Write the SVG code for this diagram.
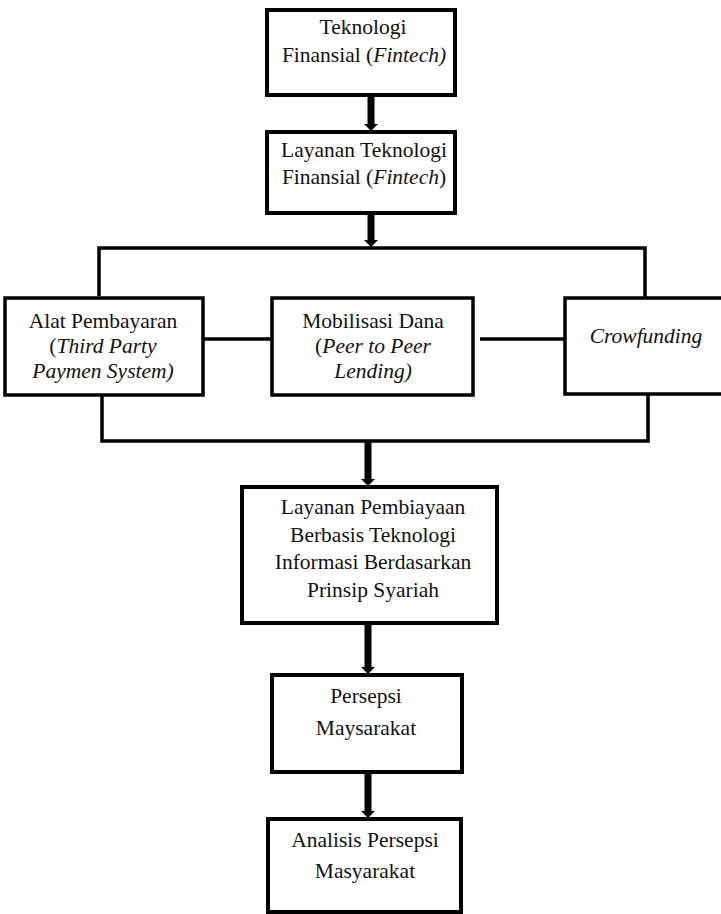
<svg xmlns="http://www.w3.org/2000/svg" width="721" height="914" viewBox="0 0 721 914">
<defs>
<style>
.box{fill:#fff;stroke:#000;stroke-width:4}
.mid{fill:#fff;stroke:#000;stroke-width:3.5}
.t{font-family:'Liberation Serif','Times New Roman',serif;font-size:21.5px;fill:#111;text-anchor:middle}
.i{font-style:italic}
.thin{fill:none;stroke:#000;stroke-width:3.5}
.thick{fill:none;stroke:#000;stroke-width:7}
</style>
</defs>
<rect width="721" height="914" fill="#fff"/>
<g id="connectors">
<line class="thick" x1="371" y1="95" x2="371" y2="126"/>
<path d="M364,124 L378,124 L371,131 Z" fill="#000"/>
<line class="thick" x1="371" y1="213" x2="371" y2="242"/>
<path d="M364,240 L378,240 L371,247 Z" fill="#000"/>
<path class="thin" d="M99,296 V248 H645 V297"/>
<line class="thin" x1="203" y1="339" x2="272" y2="339"/>
<line class="thin" x1="480" y1="339" x2="565" y2="339"/>
<path class="thin" d="M102,395 V441 H648 V395"/>
<line class="thick" x1="368" y1="441" x2="368" y2="481"/>
<path d="M361,479 L375,479 L368,486 Z" fill="#000"/>
<line class="thick" x1="368" y1="623" x2="368" y2="669"/>
<path d="M361,667 L375,667 L368,674 Z" fill="#000"/>
<line class="thick" x1="368" y1="772" x2="368" y2="813"/>
<path d="M361,811 L375,811 L368,818 Z" fill="#000"/>
</g>
<g id="n1">
<rect class="box" x="267" y="10" width="188" height="85"/>
<text class="t" x="363" y="34">Teknologi</text>
<text class="t" x="364" y="62">Finansial (<tspan class="i">Fintech)</tspan></text>
</g>
<g id="n2">
<rect class="box" x="267" y="132" width="188" height="81"/>
<text class="t" x="364" y="157">Layanan Teknologi</text>
<text class="t" x="364" y="184">Finansial (<tspan class="i">Fintech</tspan>)</text>
</g>
<g id="n3">
<rect class="mid" x="5" y="298" width="198" height="97"/>
<text class="t" x="103" y="328">Alat Pembayaran</text>
<text class="t" x="103" y="353">(<tspan class="i">Third Party</tspan></text>
<text class="t i" x="103" y="378">Paymen System)</text>
</g>
<g id="n4">
<rect class="mid" x="272" y="298" width="201" height="97"/>
<text class="t" x="373" y="328">Mobilisasi Dana</text>
<text class="t" x="373" y="353">(<tspan class="i">Peer to Peer</tspan></text>
<text class="t i" x="373" y="378">Lending)</text>
</g>
<g id="n5">
<rect class="mid" x="565" y="298" width="200" height="96"/>
<text class="t i" x="646" y="343">Crowfunding</text>
</g>
<g id="n6">
<rect class="box" x="242" y="487" width="255" height="136"/>
<text class="t" x="373" y="514">Layanan Pembiayaan</text>
<text class="t" x="373" y="542">Berbasis Teknologi</text>
<text class="t" x="373" y="569">Informasi Berdasarkan</text>
<text class="t" x="373" y="597">Prinsip Syariah</text>
</g>
<g id="n7">
<rect class="box" x="272" y="675" width="190" height="97"/>
<text class="t" x="366" y="703">Persepsi</text>
<text class="t" x="366" y="735">Maysarakat</text>
</g>
<g id="n8">
<rect class="box" x="268" y="819" width="193" height="93"/>
<text class="t" x="365" y="847">Analisis Persepsi</text>
<text class="t" x="365" y="878">Masyarakat</text>
</g>
</svg>
